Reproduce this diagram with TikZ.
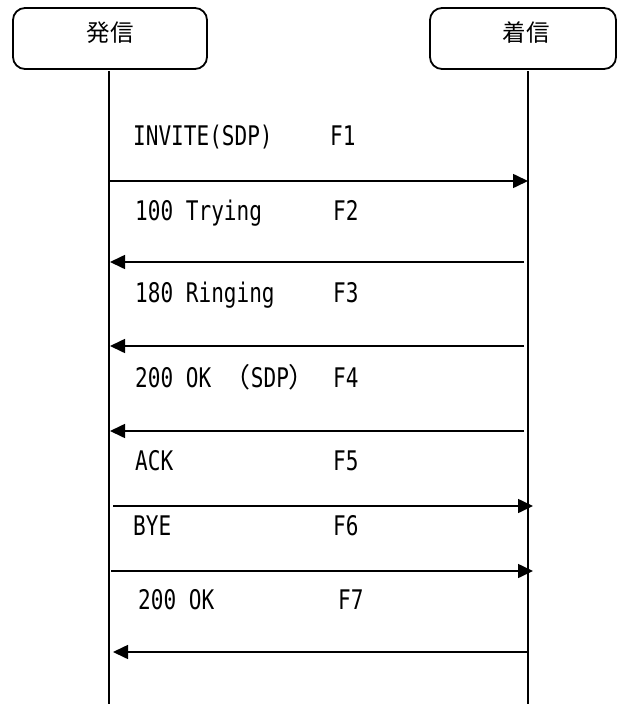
\documentclass[tikz,border=0pt]{standalone}
\usepackage{fontspec}
\setmainfont[FakeStretch=0.78]{DejaVu Sans Mono}
\newfontfamily\jpfont{Noto Sans CJK JP}
\usetikzlibrary{arrows.meta,positioning}

\begin{document}
\begin{tikzpicture}[x=1pt,y=-1pt,>={Triangle[length=15pt,width=14pt]},
  actor/.style={draw,line width=1.8pt,rounded corners=12pt,minimum height=61pt},
  life/.style={line width=1.5pt},
  msg/.style={line width=1.6pt,->},
  actortext/.style={font=\jpfont\fontsize{23.5}{26}\selectfont,inner sep=0pt},
  lbl/.style={anchor=base west,inner sep=0pt,font=\fontsize{27}{30}\selectfont}]
\useasboundingbox (0,0) rectangle (618,704);
% actors
\node[actor,minimum width=194pt] (caller) at (110,38.5) {};
\node[actor,minimum width=186pt] (callee) at (523,38.5) {};
\node[actortext] (callername) at (110,33) {発信};
\node[actortext] (calleename) at (526,33) {着信};
% lifelines
\coordinate (ctop) at (109,71);
\coordinate (cbot) at (109,704);
\coordinate (rtop) at (528,71);
\coordinate (rbot) at (528,704);
\draw[life] (ctop)--(cbot);
\draw[life] (rtop)--(rbot);
% messages
\foreach \n/\y/\xa/\xb/\tx/\base/\fx/\txt in {
  1/181/109/528/133/145/330/{INVITE(SDP)},
  2/262/524/110/135/220/333/{100 Trying},
  3/346/524/110/135/302/333/{180 Ringing},
  4/431/524/110/135/387/333/{200 OK {\jpfont （}SDP{\jpfont ）}},
  5/506/113/533/135/470/333/{ACK},
  6/571/111/533/133/535/333/{BYE},
  7/652/528/113/138/609/338/{200 OK}}
{
  \coordinate (s\n) at (\xa,\y);
  \coordinate (e\n) at (\xb,\y);
  \draw[msg] (s\n)--(e\n);
  \node[lbl] (m\n) at (\tx,\base) {\txt};
  \node[lbl] (f\n) at (\fx,\base) {F\n};
}
\end{tikzpicture}
\end{document}
